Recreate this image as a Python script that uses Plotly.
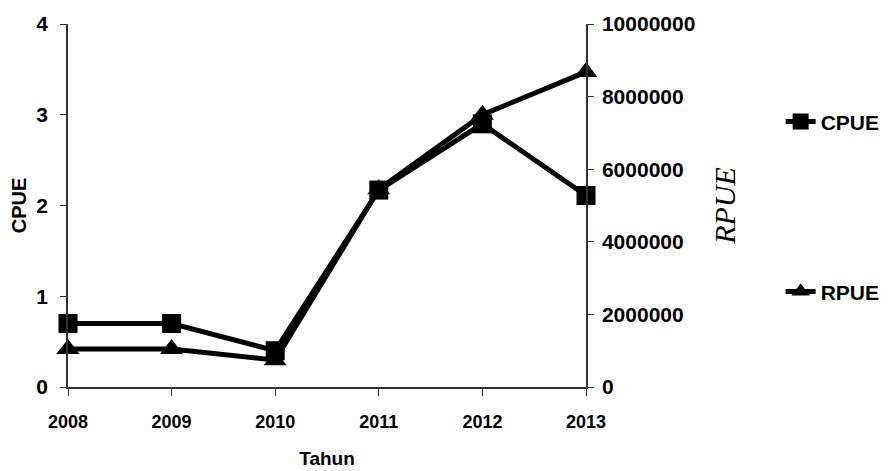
import plotly.graph_objects as go

years = [2008, 2009, 2010, 2011, 2012, 2013]
cpue = [0.7, 0.7, 0.4, 2.17, 2.9, 2.11]
rpue = [1050000, 1050000, 740000, 5450000, 7500000, 8680000]
left_ticks = [0, 1, 2, 3, 4]
right_ticks = [0, 2000000, 4000000, 6000000, 8000000, 10000000]

FONT = "Liberation Sans, Arial"

fig = go.Figure()
fig.add_trace(go.Scatter(
    x=years, y=cpue, name="CPUE", mode="lines+markers",
    line=dict(color="black", width=5),
    marker=dict(symbol="square", size=19, color="black"),
    cliponaxis=False, legend="legend", showlegend=True,
))
fig.add_trace(go.Scatter(
    x=years, y=rpue, name="RPUE", mode="lines+markers", yaxis="y2",
    line=dict(color="black", width=5),
    marker=dict(symbol="triangle-up", size=20, color="black"),
    cliponaxis=False, legend="legend2", showlegend=True,
))

axis_common = dict(
    showgrid=False, zeroline=False, showline=True, linecolor="#333",
    linewidth=1.5, ticks="outside", tickcolor="#333", automargin=False,
)

legend_font = dict(family=FONT, size=21, color="black", weight="bold")

fig.update_layout(
    width=883, height=463,
    margin=dict(l=60, r=305, t=16, b=84),
    paper_bgcolor="white", plot_bgcolor="white",
    font=dict(family=FONT, color="black"),
    showlegend=True,
    xaxis=dict(
        range=[2008, 2013], tickvals=years, ticktext=[str(y) for y in years],
        ticklen=7, ticklabelstandoff=11,
        tickfont=dict(family=FONT, size=18, color="black", weight="bold"),
        title=dict(text="<b>Tahun</b>", font=dict(family=FONT, size=19), standoff=20),
        **axis_common,
    ),
    yaxis=dict(
        range=[0, 4], tickvals=left_ticks, ticklen=6, ticklabelstandoff=8,
        tickfont=dict(family=FONT, size=21, color="black", weight="bold"),
        title=dict(text="<b>CPUE</b>", font=dict(family=FONT, size=20), standoff=12),
        **axis_common,
    ),
    yaxis2=dict(
        range=[0, 10000000], tickvals=right_ticks,
        ticktext=[str(v) for v in right_ticks], ticklen=6, ticklabelstandoff=4,
        tickfont=dict(family=FONT, size=21, color="black", weight="bold"),
        overlaying="y", side="right",
        title=dict(text="<i>RPUE</i>", font=dict(family="Liberation Serif, Times New Roman", size=30), standoff=20),
        **axis_common,
    ),
    legend=dict(xref="container", yref="container", x=0.875, y=0.754,
                xanchor="left", yanchor="middle",
                bgcolor="rgba(0,0,0,0)", font=legend_font),
    legend2=dict(xref="container", yref="container", x=0.875, y=0.387,
                 xanchor="left", yanchor="middle",
                 bgcolor="rgba(0,0,0,0)", font=legend_font),
)

fig.write_html("out.html")
